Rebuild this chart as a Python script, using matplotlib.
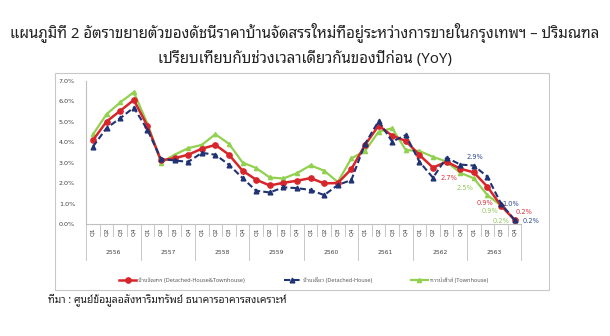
# Wachstumsrate Preisindex Neubau-Haeuser Bangkok (YoY)
import matplotlib
matplotlib.use("Agg")
import matplotlib.pyplot as plt
import matplotlib.transforms as mtransforms
from matplotlib.font_manager import FontProperties
from matplotlib.patches import Rectangle

# --  Daten  --
jahre = ["2556", "2557", "2558", "2559", "2560", "2561", "2562", "2563"]
quartale = ["Q1", "Q2", "Q3", "Q4"]

# บ้านจัดสรร (Detached-House&Townhouse)
rot = [4.09, 5.00, 5.52, 6.05, 4.79, 3.10, 3.21, 3.38,
       3.67, 3.86, 3.38, 2.60, 2.16, 1.88, 2.01, 2.11,
       2.24, 1.98, 2.00, 2.68, 3.85, 4.80, 4.31, 4.05,
       3.37, 2.75, 3.04, 2.70, 2.52, 1.82, 0.90, 0.20]
# บ้านเดี่ยว (Detached-House)
blau = [3.78, 4.68, 5.16, 5.68, 4.60, 3.17, 3.10, 3.03,
        3.47, 3.38, 2.89, 2.24, 1.62, 1.54, 1.79, 1.75,
        1.66, 1.41, 1.90, 2.15, 3.90, 5.02, 4.02, 4.34,
        3.04, 2.26, 3.24, 2.90, 2.85, 2.31, 1.00, 0.20]
# ทาวน์เฮ้าส์ (Townhouse)
gruen = [4.37, 5.36, 5.93, 6.43, 4.90, 3.00, 3.38, 3.70,
         3.86, 4.38, 3.91, 3.00, 2.73, 2.27, 2.22, 2.48,
         2.86, 2.60, 2.05, 3.20, 3.56, 4.50, 4.67, 3.61,
         3.56, 3.28, 3.04, 2.50, 2.23, 1.41, 0.90, 0.20]

namen = ["บ้านจัดสรร (Detached-House&Townhouse)",
         "บ้านเดี่ยว (Detached-House)",
         "ทาวน์เฮ้าส์ (Townhouse)"]

titel = ("แผนภูมิที่ 2 อัตราขยายตัวของดัชนีราคาบ้านจัดสรรใหม่ที่อยู่ระหว่างการขายในกรุงเทพฯ – ปริมณฑล\n"
         "เปรียบเทียบกับช่วงเวลาเดียวกันของปีก่อน (YoY)")
quelle = "ที่มา : ศูนย์ข้อมูลอสังหาริมทรัพย์ ธนาคารอาคารสงเคราะห์"

# Beschriftungen am Ende der Linien: (Index, Wert, Farbe, dx, dy in Pixel)
marken = [(27, 2.9, "#2E4A8F", 6, 8), (27, 2.7, "#E0313C", -20, -9),
          (27, 2.5, "#92C957", -4, -15),
          (30, 0.9, "#E0313C", -24, 3), (30, 0.9, "#92C957", -19, -5),
          (30, 1.0, "#2E4A8F", 1, 0), (31, 0.2, "#E0313C", 1, 8),
          (31, 0.2, "#92C957", -22, -1), (31, 0.2, "#2E4A8F", 8, -1)]

thai = ["Noto Sans Thai Looped", "DejaVu Sans"]
x = list(range(len(rot)))

# --  Grafik  --
fig = plt.figure(figsize=(6.1, 3.36), dpi=100)
ax = fig.add_axes([0.1413, 0.3333, 0.7134, 0.4271])

# Rahmen um das Diagramm
fig.patches.append(Rectangle((55 / 610, 1 - 290 / 336), 494 / 610, 217 / 336,
                             transform=fig.transFigure, fill=False,
                             edgecolor="#C8C8C8", linewidth=0.8))

ax.plot(x, gruen, "-^", color="#92D050", markersize=3, linewidth=1.6,
        label=namen[2], zorder=3)
ax.plot(x, rot, "-o", color="#D7262B", markersize=3.8, linewidth=1.8,
        label=namen[0], zorder=4)
ax.plot(x, blau, "--^", color="#1F3274", markersize=3.4, linewidth=1.5,
        dashes=(3, 1.5), label=namen[1], zorder=5)

ax.set_xlim(-0.5, len(x) - 0.5)
ax.set_ylim(0, 7)
ax.set_yticks(range(8))
ax.set_yticklabels(["%.1f%%" % v for v in range(8)])
ax.tick_params(axis="y", length=0, pad=8, labelsize=4.6, labelcolor="#404040")
ax.set_xticks([])
for s in ["top", "right"]:
    ax.spines[s].set_visible(False)
for s in ["left", "bottom"]:
    ax.spines[s].set_color("#BFBFBF")
    ax.spines[s].set_linewidth(0.8)

# Kategorienachse: Quartale und Jahre
trans = mtransforms.blended_transform_factory(ax.transData, ax.transAxes)
for i in range(len(x)):
    ax.text(i, -0.055, quartale[i % 4], transform=trans, rotation=90,
            ha="center", va="center", fontsize=4.3, color="#404040")
    if i > 0:
        tief = -0.25 if i % 4 == 0 else -0.085
        ax.plot([i - 0.5, i - 0.5], [0, tief], transform=trans,
                color="#BFBFBF", linewidth=0.6, clip_on=False)
ax.plot([len(x) - 0.5] * 2, [0, -0.25], transform=trans,
        color="#BFBFBF", linewidth=0.6, clip_on=False)
ax.plot([-0.5, -0.5], [0, -0.25], transform=trans,
        color="#BFBFBF", linewidth=0.6, clip_on=False)
for j, jahr in enumerate(jahre):
    ax.text(j * 4 + 1.5, -0.2, jahr, transform=trans, ha="center",
            va="center", fontsize=4.3, color="#404040")

# Werte am Ende
for i, w, c, dx, dy in marken:
    ax.annotate("%.1f%%" % w, (i, w), xytext=(dx, dy), textcoords="offset pixels",
                fontsize=4.8, color=c, ha="left", va="center", zorder=6)

# Legende
leg = ax.legend(handles=[ax.lines[1], ax.lines[2], ax.lines[0]],
                loc="center", bbox_to_anchor=(0.5, -0.39), ncol=3,
                frameon=False, prop=FontProperties(family=thai, size=4.0),
                handlelength=3, columnspacing=7, handletextpad=0.4)
for t in leg.get_texts():
    t.set_color("#595959")

# Titel und Quelle
fig.text(0.5, 1 - 45 / 336, titel, ha="center", va="center", fontsize=10.8,
         weight="bold", family=thai, linespacing=1.6, color="#222222")
fig.text(48 / 610, 1 - 300 / 336, quelle, ha="left", va="center",
         fontsize=7.5, family=thai, color="#222222")

fig.savefig("out.png", dpi=100)
